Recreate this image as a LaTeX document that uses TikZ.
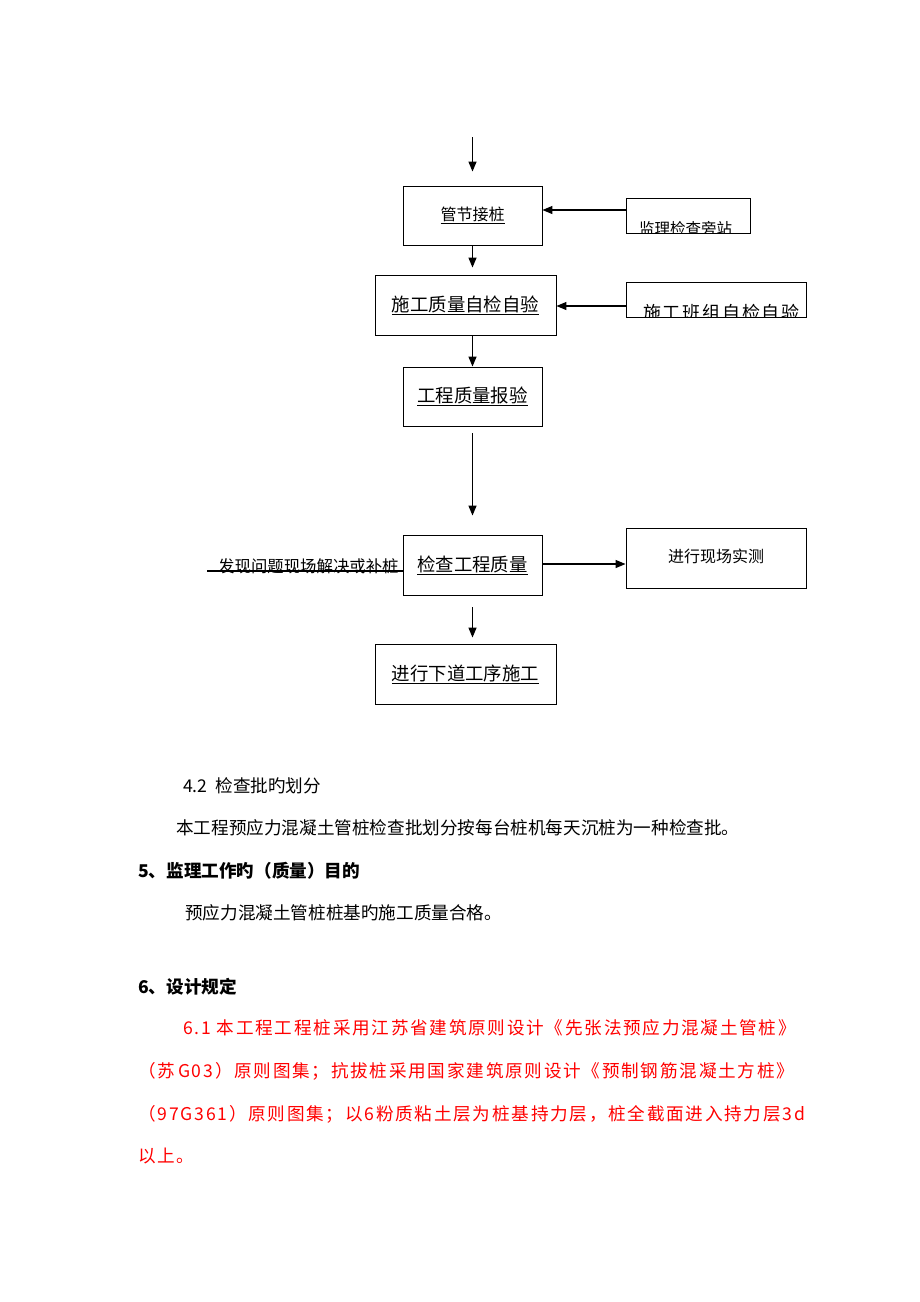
\documentclass[tikz,border=0pt]{standalone}
\usepackage{fontspec}
\setmainfont{Noto Sans CJK SC}
\newfontfamily\redcjk[LetterSpace=10]{Noto Sans CJK SC}
\usetikzlibrary{arrows.meta,calc}
\begin{document}
\begin{tikzpicture}[x=1pt,y=-1pt,
  box/.style={draw,line width=0.9pt,inner sep=0pt},
  arr/.style={line width=1.3pt,-{Triangle[length=10pt,width=8pt]}},
  conn/.style={line width=1.1pt},
  txt/.style={inner sep=0pt,anchor=west,font=\fontsize{17.6}{20}\selectfont},
  btxt/.style={txt,font=\fontsize{17.6}{20}\selectfont\bfseries},
  rtxt/.style={txt,text=red,font=\fontsize{17.6}{20}\redcjk},
  sm/.style={font=\fontsize{16}{18}\selectfont},
  lg/.style={font=\fontsize{18.4}{20}\selectfont}]
\useasboundingbox (0,0) rectangle (920,1302);
\fill[white] (0,0) rectangle (920,1302);
% main boxes
\node[box,sm,minimum width=139pt,minimum height=59pt] (b1) at (472.5,215.5) {\underline{管节接桩}};
\node[box,lg,minimum width=181pt,minimum height=60pt] (b2) at (465.5,305) {\underline{施工质量自检自验}};
\node[box,lg,minimum width=139pt,minimum height=59pt] (b3) at (472.5,396.5) {\underline{工程质量报验}};
\node[box,lg,minimum width=139pt,minimum height=60pt] (b4) at (472.5,565) {\underline{检查工程质量}};
\node[box,lg,minimum width=181pt,minimum height=60pt] (b5) at (465.5,674) {\underline{进行下道工序施工}};
% side boxes
\node[box,minimum width=124pt,minimum height=35pt] (s1) at (688,215.5) {};
\begin{scope}
\clip (s1.north west) rectangle (s1.south east);
\node[inner sep=0pt,anchor=north west,font=\fontsize{15.5}{17}\selectfont] (s1t) at (639,221) {监理检查旁站};
\end{scope}
\node[box,minimum width=180pt,minimum height=35pt] (s2) at (716,299.5) {};
\begin{scope}
\clip (s2.north west) rectangle (s2.south east);
\node[inner sep=0pt,anchor=north west,font=\fontsize{18}{20}\redcjk\color{black}] (s2t) at (643,304) {施工班组自检自验};
\end{scope}
\node[box,sm,minimum width=180pt,minimum height=60pt] (s3) at (716,558) {};
\node[inner sep=0pt,sm] (s3t) at (716,556) {进行现场实测};
% arrows
\coordinate (top) at (472.5,137);
\draw[arr,shorten >=14pt] (top) -- (top |- b1.north);
\draw[arr,shorten >=7pt] (b1.south) -- (b1.south |- b2.north);
\draw[arr] (b2.south -| b3.north) -- (b3.north);
\draw[arr,shorten <=7pt,shorten >=19pt] (b3.south) -- (b4.north);
\draw[arr,shorten <=12pt,shorten >=6pt] (b4.south) -- (b5.north -| b4.south);
\draw[arr] ([yshift=5.5pt]s1.west) -- ([yshift=5.5pt]b1.east);
\draw[arr] ([yshift=-6.5pt]s2.west) -- ([yshift=-1pt]b2.east);
\draw[arr] ([yshift=1pt]b4.east) -- ([yshift=1pt]b4.east -| s3.west);
% left line with text
\coordinate (lft) at (207,571);
\draw[conn] (lft) -- (lft -| b4.west);
\node[inner sep=0pt,anchor=west,font=\fontsize{16.4}{18}\selectfont] (lt) at (218,566.5) {发现问题现场解决或补桩};
% body text
\node[txt] (t1) at (183,786) {4.2\ \ 检查批旳划分};
\node[txt] (t2) at (176,828) {本工程预应力混凝土管桩检查批划分按每台桩机每天沉桩为一种检查批。};
\node[btxt] (t3) at (138,871) {5、监理工作旳（质量）目的};
\node[txt] (t4) at (185,913) {预应力混凝土管桩桩基旳施工质量合格。};
\node[btxt] (t5) at (138,987) {6、设计规定};
\node[rtxt] (r1) at (183,1028) {6.1 本工程工程桩采用江苏省建筑原则设计《先张法预应力混凝土管桩》};
\node[rtxt] (r2) at (138,1071) {（苏\,G03）原则图集；抗拔桩采用国家建筑原则设计《预制钢筋混凝土方桩》};
\node[rtxt] (r3) at (138,1114) {（97G361）原则图集；以6粉质粘土层为桩基持力层，桩全截面进入持力层3d};
\node[rtxt] (r4) at (138,1156) {以上。};
\end{tikzpicture}
\end{document}
